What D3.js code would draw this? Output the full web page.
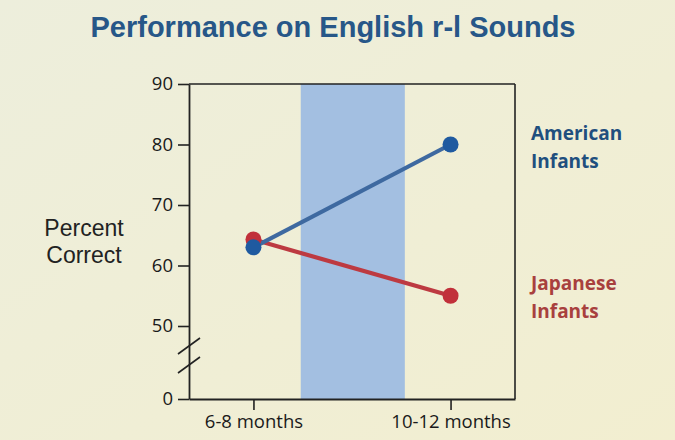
<!DOCTYPE html>
<html>
<head>
<meta charset="utf-8">
<script src="https://cdn.jsdelivr.net/npm/d3@7"></script>
<style>
  html, body { margin: 0; padding: 0; }
  body { width: 675px; height: 440px; overflow: hidden; }
  svg { display: block; }
</style>
</head>
<body>
<svg id="chart" width="675" height="440"></svg>
<script>
// ---- data ----
const categories = ["6-8 months", "10-12 months"];
const americanValues = [63, 80];
const japaneseValues = [64.3, 55];
const yTicks = [0, 50, 60, 70, 80, 90];
const seriesNames = [["American", "Infants"], ["Japanese", "Infants"]];
const titleText = "Performance on English r-l Sounds";
const yLabelLines = ["Percent", "Correct"];

// ---- layout ----
const W = 675, H = 440;
const plot = { left: 189, right: 515, top: 84, bottom: 399 };
const svg = d3.select("#chart");

const defs = svg.append("defs");
const grad = defs.append("linearGradient").attr("id", "bg")
  .attr("x1", "0").attr("y1", "0").attr("x2", "1").attr("y2", "1");
grad.append("stop").attr("offset", "0").attr("stop-color", "#edeedc");
grad.append("stop").attr("offset", "1").attr("stop-color", "#f2eed0");
svg.append("rect").attr("width", W).attr("height", H).attr("fill", "url(#bg)");

const x = d3.scalePoint().domain(categories)
  .range([plot.left, plot.right]).padding(0.327);
const y = d3.scaleLinear().domain([0, 50, 90])
  .range([plot.bottom, 326, plot.top]);

// shaded band between the two ages
const step = x.step();
const bandX0 = x(categories[0]) + step * 0.24;
const bandX1 = x(categories[0]) + step * 0.768;
svg.append("rect")
  .attr("x", bandX0).attr("y", plot.top)
  .attr("width", bandX1 - bandX0).attr("height", plot.bottom - plot.top)
  .attr("fill", "#a3bfe1");

// frame top and right
svg.append("line").attr("x1", plot.left).attr("x2", plot.right)
  .attr("y1", plot.top).attr("y2", plot.top)
  .attr("stroke", "#222").attr("stroke-width", 1.6);
svg.append("line").attr("x1", plot.right).attr("x2", plot.right)
  .attr("y1", plot.top).attr("y2", plot.bottom)
  .attr("stroke", "#222").attr("stroke-width", 1.6);

// y axis
const yAxis = svg.append("g")
  .attr("transform", `translate(${plot.left},0)`)
  .call(d3.axisLeft(y).tickValues(yTicks).tickSizeInner(11).tickSizeOuter(0).tickPadding(5));
yAxis.select(".domain").attr("stroke", "#222").attr("stroke-width", 1.8);
yAxis.selectAll(".tick line").attr("stroke", "#222").attr("stroke-width", 1.6);
yAxis.selectAll(".tick text")
  .attr("font-family", "'Open Sans', sans-serif").attr("font-size", 18.5)
  .attr("fill", "#1a1a1a");

// x axis
const xAxis = svg.append("g")
  .attr("transform", `translate(0,${plot.bottom})`)
  .call(d3.axisBottom(x).tickSizeInner(11).tickSizeOuter(0).tickPadding(5));
xAxis.select(".domain").attr("stroke", "#222").attr("stroke-width", 1.8);
xAxis.selectAll(".tick text")
  .attr("font-family", "'Open Sans', sans-serif").attr("font-size", 18.5)
  .attr("fill", "#1a1a1a");
xAxis.selectAll(".tick line").attr("stroke", "#222").attr("stroke-width", 1.6);

// axis break marks
[346, 365].forEach(cy => {
  svg.append("line")
    .attr("x1", plot.left - 11).attr("y1", cy + 8)
    .attr("x2", plot.left + 11).attr("y2", cy - 8)
    .attr("stroke", "#222").attr("stroke-width", 1.6);
});

// y label
svg.append("text")
  .attr("font-family", "'Liberation Sans', Arial, sans-serif")
  .attr("font-size", 23).attr("fill", "#222").attr("text-anchor", "middle")
  .selectAll("tspan").data(yLabelLines).join("tspan")
  .attr("x", 84).attr("y", (d, i) => 236 + i * 27).text(d => d);

// series
const series = [
  { values: japaneseValues, line: "#bd3a41", dot: "#c1303a", text: "#a8403e", name: seriesNames[1], ty: 290 },
  { values: americanValues, line: "#3e69a0", dot: "#1f5aa0", text: "#1f4f7e", name: seriesNames[0], ty: 140 }
];
const lineGen = d3.line().x((d, i) => x(categories[i])).y(d => y(d));
series.forEach(s => {
  svg.append("path").attr("d", lineGen(s.values))
    .attr("fill", "none").attr("stroke", s.line).attr("stroke-width", 4.2);
});
series.forEach(s => {
  svg.append("g").selectAll("circle").data(s.values).join("circle")
    .attr("cx", (d, i) => x(categories[i])).attr("cy", d => y(d))
    .attr("r", 8).attr("fill", s.dot);
});

// series labels
series.forEach(s => {
  svg.append("text")
    .attr("font-family", "'Open Sans', sans-serif").attr("font-weight", "bold")
    .attr("font-size", 19).attr("fill", s.text)
    .selectAll("tspan").data(s.name).join("tspan")
    .attr("x", 531).attr("y", (d, i) => s.ty + i * 28).text(d => d);
});

// title
svg.append("text")
  .attr("x", 333).attr("y", 37).attr("text-anchor", "middle")
  .attr("font-family", "'Liberation Sans', Arial, sans-serif")
  .attr("font-weight", "bold").attr("font-size", 29)
  .attr("fill", "#275788").text(titleText);
</script>
</body>
</html>
